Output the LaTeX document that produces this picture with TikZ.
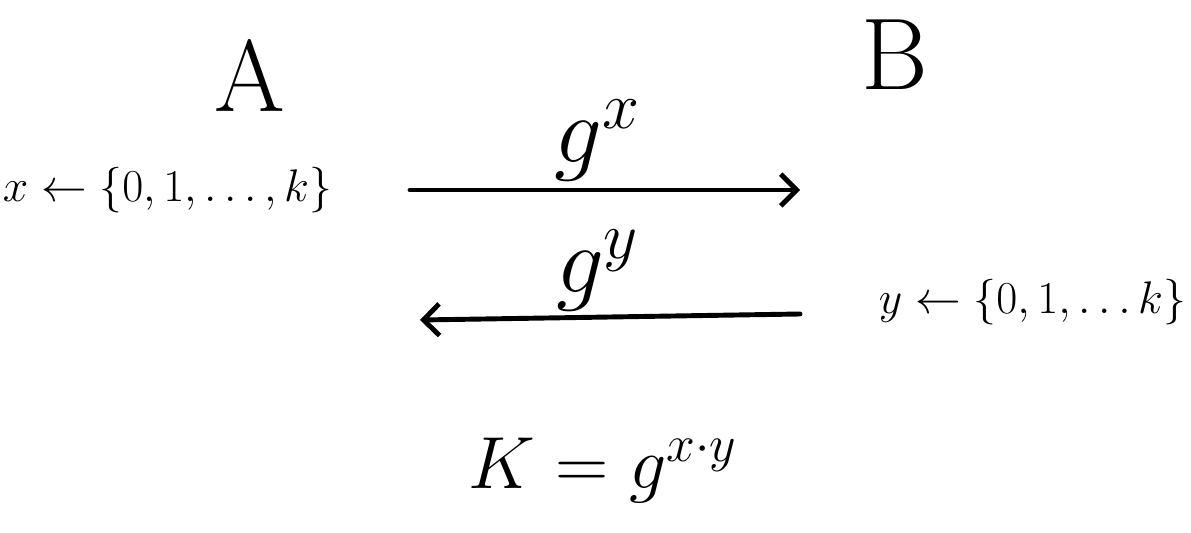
\RequirePackage{fix-cm}
\documentclass[tikz,border=0pt]{standalone}
\usepackage{amsmath,amssymb}
\usepackage{xcolor}
\usepackage{tikz}
\usetikzlibrary{arrows.meta,positioning}

\begin{document}
\begin{tikzpicture}[font=\fontsize{26}{30}\selectfont,
    msg/.style={line width=2.8pt, line cap=round, -{Straight Barb[length=9pt,width=18pt,line width=2.8pt]}},
    party/.style={font=\fontsize{58}{62}\selectfont},
    expo/.style={font=\fontsize{54}{58}\selectfont, anchor=south}]
  % scale: 1 cm = 50 px of the sketch
  \useasboundingbox (0,0) rectangle (23.82,-10.66);
  % the two parties
  \node[party] (alice) at (5.0,-1.5)  {A};
  \node[party] (bob)   at (17.9,-1.1) {B};
  % private choices
  \node (xpick) at (3.35,-3.8)  {$x \leftarrow \{0,1,\ldots,k\}$};
  \node (ypick) at (20.65,-6.05) {$y \leftarrow \{0,1,\ldots k\}$};
  % messages
  \coordinate (outA) at (8.2,-3.8);
  \coordinate (inB)  at (16.0,-3.8);
  \coordinate (outB) at (16.0,-6.28);
  \coordinate (inA)  at (8.4,-6.4);
  \draw[msg] (outA) -- (inB);
  \draw[msg] (outB) -- (inA);
  \node[expo] (gx) at (11.95,-3.75) {$g^x$};
  \node[expo] (gy) at (11.95,-6.35) {$g^y$};
  % shared key
  \node[font=\fontsize{42}{46}\selectfont] (key) at (12.05,-9.4) {$K = g^{x \cdot y}$};
\end{tikzpicture}
\end{document}
